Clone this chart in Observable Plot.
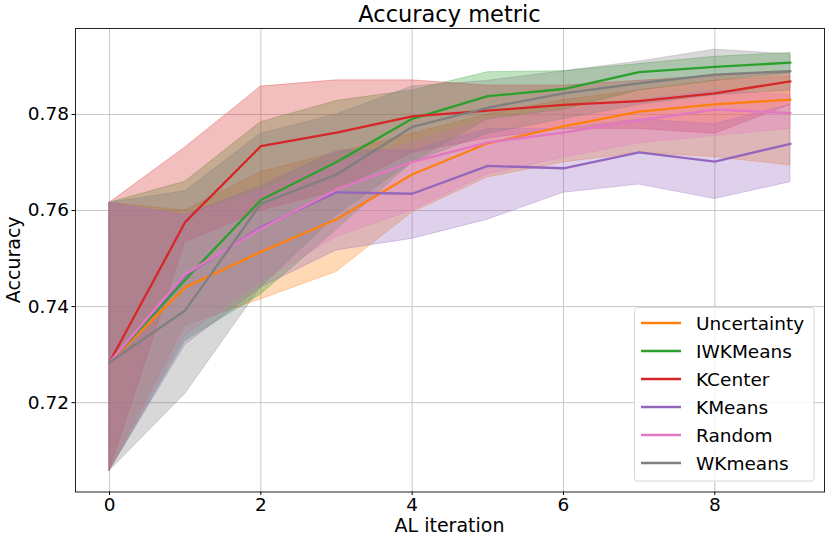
<!DOCTYPE html>
<html>
<head>
<meta charset="utf-8">
<script src="https://cdn.jsdelivr.net/npm/d3@7"></script>
<script src="https://cdn.jsdelivr.net/npm/@observablehq/plot@0.6"></script>
<style>
  html, body { margin: 0; padding: 0; background: white; }
  #chart svg { display: block; }
</style>
</head>
<body>
<div id="chart"></div>
<script>
// ---- data ----
const iterations = [0, 1, 2, 3, 4, 5, 6, 7, 8, 9];
const seriesNames = ["Uncertainty", "IWKMeans", "KCenter", "KMeans", "Random", "WKmeans"];
const seriesColors = ["#ff7f0e", "#2ca02c", "#d62728", "#9467bd", "#e377c2", "#7f7f7f"];
const xTicks = [0, 2, 4, 6, 8];
const yTicks = [0.72, 0.74, 0.76, 0.78];

const meanUncertainty = [0.7284, 0.7440, 0.7514, 0.7582, 0.7675, 0.7740, 0.7775, 0.7806, 0.7821, 0.7831];
const meanIWKMeans    = [0.7284, 0.7456, 0.7622, 0.7701, 0.7791, 0.7838, 0.7853, 0.7888, 0.7899, 0.7908];
const meanKCenter     = [0.7284, 0.7576, 0.7734, 0.7762, 0.7796, 0.7808, 0.7820, 0.7828, 0.7844, 0.7869];
const meanKMeans      = [0.7284, 0.7465, 0.7565, 0.7638, 0.7635, 0.7693, 0.7688, 0.7721, 0.7702, 0.7739];
const meanRandom      = [0.7284, 0.7468, 0.7562, 0.7644, 0.7701, 0.7742, 0.7762, 0.7788, 0.7810, 0.7803];
const meanWKmeans     = [0.7284, 0.7392, 0.7614, 0.7675, 0.7774, 0.7814, 0.7844, 0.7865, 0.7883, 0.7890];

const loUncertainty = [0.7058, 0.7360, 0.7415, 0.7472, 0.7596, 0.7669, 0.7700, 0.7720, 0.7711, 0.7694];
const hiUncertainty = [0.7616, 0.7600, 0.7680, 0.7720, 0.7760, 0.7800, 0.7830, 0.7850, 0.7870, 0.7880];
const loIWKMeans    = [0.7058, 0.7329, 0.7425, 0.7560, 0.7700, 0.7790, 0.7810, 0.7850, 0.7870, 0.7885];
const hiIWKMeans    = [0.7616, 0.7660, 0.7784, 0.7828, 0.7850, 0.7888, 0.7890, 0.7905, 0.7920, 0.7928];
const loKCenter     = [0.7058, 0.7534, 0.7600, 0.7640, 0.7720, 0.7750, 0.7770, 0.7770, 0.7760, 0.7820];
const hiKCenter     = [0.7616, 0.7731, 0.7858, 0.7871, 0.7871, 0.7860, 0.7860, 0.7870, 0.7880, 0.7890];
const loKMeans      = [0.7058, 0.7320, 0.7440, 0.7517, 0.7541, 0.7581, 0.7637, 0.7654, 0.7624, 0.7659];
const hiKMeans      = [0.7616, 0.7590, 0.7650, 0.7725, 0.7725, 0.7770, 0.7770, 0.7790, 0.7780, 0.7820];
const loRandom      = [0.7058, 0.7340, 0.7450, 0.7545, 0.7600, 0.7675, 0.7710, 0.7740, 0.7755, 0.7770];
const hiRandom      = [0.7616, 0.7590, 0.7640, 0.7700, 0.7740, 0.7790, 0.7810, 0.7830, 0.7850, 0.7840];
const loWKmeans     = [0.7058, 0.7218, 0.7440, 0.7590, 0.7700, 0.7760, 0.7790, 0.7820, 0.7840, 0.7850];
const hiWKmeans     = [0.7616, 0.7640, 0.7760, 0.7800, 0.7858, 0.7870, 0.7890, 0.7910, 0.7935, 0.7925];

const means = [meanUncertainty, meanIWKMeans, meanKCenter, meanKMeans, meanRandom, meanWKmeans];
const lows  = [loUncertainty, loIWKMeans, loKCenter, loKMeans, loRandom, loWKmeans];
const highs = [hiUncertainty, hiIWKMeans, hiKCenter, hiKMeans, hiRandom, hiWKmeans];

const rows = [];
seriesNames.forEach((s, k) => {
  iterations.forEach((it, i) => {
    rows.push({series: s, it, mean: means[k][i], lo: lows[k][i], hi: highs[k][i]});
  });
});

const FONT = "DejaVu Sans, sans-serif";
const W = 830, H = 543;
const mL = 75, mR = 6, mT = 28, mB = 51.5;

const chart = Plot.plot({
  width: W,
  height: H,
  marginLeft: mL,
  marginRight: mR,
  marginTop: mT,
  marginBottom: mB,
  style: {fontFamily: FONT, fontSize: "18.5px", background: "white", color: "black"},
  x: {domain: [-0.45, 9.45], label: null},
  y: {domain: [0.7014, 0.7979], label: null},
  color: {domain: seriesNames, range: seriesColors},
  marks: [
    Plot.ruleX(xTicks, {stroke: "#c8c8c8", strokeWidth: 1}),
    Plot.ruleY(yTicks, {stroke: "#c8c8c8", strokeWidth: 1}),
    ...seriesNames.map(s => Plot.areaY(rows.filter(r => r.series === s), {
      x: "it", y1: "lo", y2: "hi",
      fill: "series", fillOpacity: 0.3,
      stroke: "series", strokeOpacity: 0.3, strokeWidth: 1
    })),
    Plot.lineY(rows, {x: "it", y: "mean", z: "series", stroke: "series", strokeWidth: 2.3}),
    Plot.frame({stroke: "#222", strokeWidth: 1}),
    Plot.axisX({ticks: xTicks, tickFormat: d => String(d), tickSize: 3.5, tickPadding: 2, label: null, fontSize: 18.5}),
    Plot.axisY({ticks: yTicks, tickFormat: d3.format(".2f"), tickSize: 3.5, tickPadding: 3, label: null, fontSize: 18.5})
  ]
});

document.getElementById("chart").appendChild(chart);

const svg = d3.select(chart);
const cx = (mL + (W - mR)) / 2;

// title
svg.append("text")
  .attr("x", cx).attr("y", 22)
  .attr("text-anchor", "middle")
  .style("font-family", FONT).style("font-size", "22.5px").attr("fill", "black")
  .text("Accuracy metric");

// x label
svg.append("text")
  .attr("x", cx).attr("y", 532)
  .attr("text-anchor", "middle")
  .style("font-family", FONT).style("font-size", "19px").attr("fill", "black")
  .text("AL iteration");

// y label
svg.append("text")
  .attr("transform", `translate(19.5,${(mT + (H - mB)) / 2}) rotate(-90)`)
  .attr("text-anchor", "middle")
  .style("font-family", FONT).style("font-size", "19px").attr("fill", "black")
  .text("Accuracy");

// legend
const lg = svg.append("g").attr("transform", "translate(634.5,307.5)");
lg.append("rect")
  .attr("width", 179.5).attr("height", 173.5).attr("rx", 3)
  .attr("fill", "white").attr("fill-opacity", 0.8)
  .attr("stroke", "#d8d8d8").attr("stroke-width", 1);
seriesNames.forEach((s, k) => {
  const yy = 15.5 + k * 28;
  lg.append("line")
    .attr("x1", 6.5).attr("x2", 46.5).attr("y1", yy).attr("y2", yy)
    .attr("stroke", seriesColors[k]).attr("stroke-width", 2.3);
  lg.append("text")
    .attr("x", 61.5).attr("y", yy).attr("dy", "0.36em")
    .attr("text-anchor", "start")
    .style("font-family", FONT).style("font-size", "18.5px").attr("fill", "black")
    .text(s);
});
</script>
</body>
</html>
